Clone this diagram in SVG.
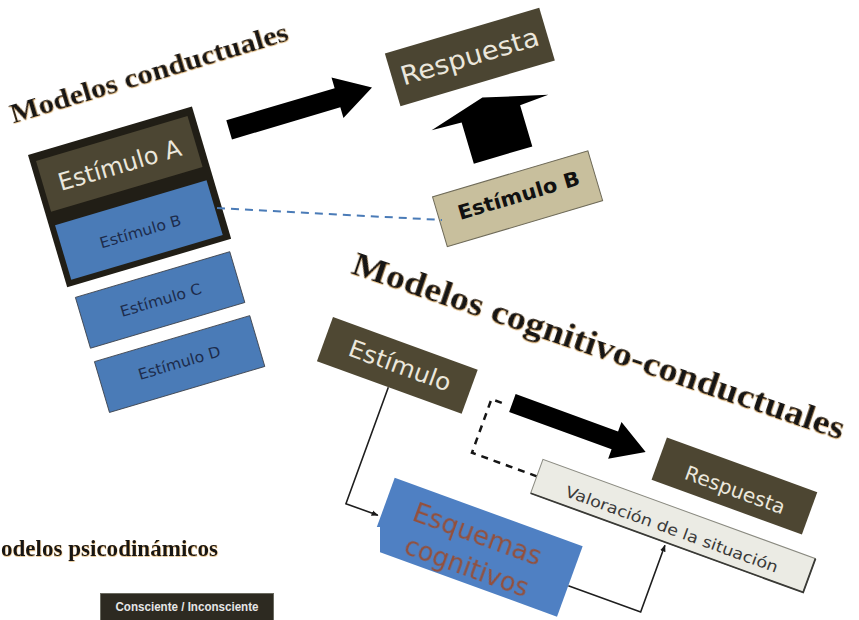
<svg xmlns="http://www.w3.org/2000/svg" width="859" height="620" viewBox="0 0 859 620">
  <defs>
    <filter id="glow" x="-5%" y="-30%" width="110%" height="160%">
      <feDropShadow dx="0.3" dy="0.8" stdDeviation="0.35" flood-color="#d08a20" flood-opacity="0.55"/>
    </filter>
    <filter id="soft" x="-5%" y="-20%" width="110%" height="140%">
      <feGaussianBlur stdDeviation="0.5"/>
    </filter>
    <marker id="ah" viewBox="0 0 10 10" refX="9" refY="5" markerWidth="7" markerHeight="7" markerUnits="userSpaceOnUse" orient="auto">
      <path d="M0,1 L10,5 L0,9 z" fill="#1a1a1a"/>
    </marker>
  </defs>
  <style>
    .title { font-family: "Liberation Serif", "Times New Roman", serif; font-weight: bold; fill: #121212; }
    .sans { font-family: "DejaVu Sans", Verdana, sans-serif; text-anchor: middle; }
    .light { fill: #ebe7dc; }
    .navy { fill: #1d2c4c; }
    .olive { fill: #4c4633; }
    .blue { fill: #4a7bb7; }
    .blueb { fill: #4a7bb7; stroke: #3a3f48; stroke-width: 0.8; }
    .arrow { fill: #000; }
    .line { fill: none; stroke: #1e1e1e; stroke-width: 1.6; }
  </style>
  <rect width="859" height="620" fill="#ffffff"/>

  <!-- Panel 1: Modelos conductuales -->
  <g id="title-conductuales" transform="translate(13.3,123.3) rotate(-16.75)">
    <text class="title" x="0" y="0" font-size="28" textLength="289" lengthAdjust="spacingAndGlyphs" filter="url(#glow)">Modelos conductuales</text>
  </g>
  <g id="panel-conductuales" transform="translate(28,155) rotate(-16.5)">
    <g id="stim-frame">
      <rect x="0" y="0" width="171" height="138" fill="#211e16"/>
    </g>
    <g id="estimulo-a">
      <rect x="6" y="8" width="158" height="53" class="olive"/>
      <text class="sans light" x="85" y="44" font-size="24" textLength="127" lengthAdjust="spacingAndGlyphs">Estímulo A</text>
    </g>
    <g id="estimulo-b-blue">
      <rect x="6" y="75" width="158" height="57" class="blue"/>
      <text class="sans navy" x="86" y="110.5" font-size="15" textLength="84" lengthAdjust="spacingAndGlyphs">Estímulo B</text>
    </g>
    <g id="estimulo-c">
      <rect x="5" y="150" width="161" height="53" class="blueb"/>
      <text class="sans navy" x="86" y="182" font-size="15" textLength="84" lengthAdjust="spacingAndGlyphs">Estímulo C</text>
    </g>
    <g id="estimulo-d">
      <rect x="5" y="217" width="162" height="53" class="blueb"/>
      <text class="sans navy" x="86" y="247.5" font-size="15" textLength="85" lengthAdjust="spacingAndGlyphs">Estímulo D</text>
    </g>
    <g id="respuesta-1">
      <rect x="371" y="4" width="161" height="55" fill="#4b4532"/>
      <text class="sans light" x="451.5" y="40" font-size="26" textLength="143" lengthAdjust="spacingAndGlyphs">Respuesta</text>
    </g>
    <g id="estimulo-b-tan">
      <rect x="376" y="155" width="162" height="52" fill="#c8bf9d" stroke="#6e6a58" stroke-width="1"/>
      <text class="sans" x="459" y="185" font-size="20" font-weight="bold" fill="#111" textLength="126" lengthAdjust="spacingAndGlyphs">Estímulo B</text>
    </g>
    <g id="connectors-1">
      <polygon class="arrow" points="200,23 313,23 313,12 349,33 313,54 313,43 200,43"/>
      <polygon class="arrow" points="394,91 452,74 516,90 486,92 486,135 425,135 425,92"/>
    </g>
  </g>
  <g id="connector-dashed-blue">
    <line x1="217" y1="208" x2="442" y2="220" stroke="#4a7bb7" stroke-width="2" stroke-dasharray="8 6"/>
  </g>

  <!-- Panel 2: Modelos cognitivo-conductuales -->
  <g id="title-cognitivo" transform="translate(350,273) rotate(18.8)">
    <text class="title" x="0" y="0" font-size="33" textLength="518" lengthAdjust="spacingAndGlyphs" filter="url(#glow)">Modelos cognitivo-conductuales</text>
  </g>
  <g id="panel-cognitivo" transform="translate(333,317) rotate(20)">
    <g id="connectors-2">
      <path class="line" d="M76,47 V171 H110" marker-end="url(#ah)"/>
      <path class="line" d="M313,172 H390 V101" marker-end="url(#ah)"/>
      <path d="M188,23 H177 V80 H246" fill="none" stroke="#151515" stroke-width="2.5" stroke-dasharray="7 6"/>
      <polygon class="arrow" points="198,10 307,10 307,0 340,20 307,39 307,29 198,29"/>
    </g>
    <g id="estimulo-2">
      <rect x="0" y="0" width="154" height="47" fill="#4f4833"/>
      <text class="sans light" x="79.5" y="31" font-size="24" textLength="107" lengthAdjust="spacingAndGlyphs">Estímulo</text>
    </g>
    <g id="respuesta-2">
      <rect x="355" y="-1" width="160" height="45" fill="#4d4632"/>
      <text class="sans light" x="437" y="32" font-size="20" textLength="105" lengthAdjust="spacingAndGlyphs">Respuesta</text>
    </g>
    <g id="valoracion">
      <rect x="246" y="62" width="290" height="36" fill="#ebebe4" stroke="#8a8a80" stroke-width="1"/>
      <path d="M536,62 V98 H246" fill="none" stroke="#3a3a36" stroke-width="1.8"/>
      <text class="sans" x="391" y="89" font-size="15.5" fill="#3a3a3a" textLength="225" lengthAdjust="spacingAndGlyphs">Valoración de la situación</text>
    </g>
    <g id="esquemas">
      <rect x="113" y="130" width="200" height="75" fill="#4f80c3"/>
      <g filter="url(#soft)">
        <text class="sans" x="210" y="164" font-size="26" fill="#94503a" textLength="135" lengthAdjust="spacingAndGlyphs">Esquemas</text>
        <text class="sans" x="211" y="198" font-size="26" fill="#94503a" textLength="130" lengthAdjust="spacingAndGlyphs">cognitivos</text>
      </g>
    </g>
  </g>

  <!-- Panel 3: Modelos psicodinámicos (partial) -->
  <rect x="0" y="527" width="380" height="93" fill="#ffffff"/>
  <g id="title-psicodinamicos">
    <text class="title" x="1" y="556" font-size="24" textLength="217" lengthAdjust="spacingAndGlyphs" filter="url(#glow)">odelos psicodinámicos</text>
  </g>
  <g id="consciente">
    <rect x="100.5" y="593.5" width="173" height="30" fill="#2d2a21" stroke="#6a6a60" stroke-width="1"/>
    <text x="187" y="611" font-family="'Liberation Sans', Arial, sans-serif" font-weight="bold" font-size="12" fill="#e6e6e6" text-anchor="middle" textLength="143" lengthAdjust="spacingAndGlyphs">Consciente / Inconsciente</text>
  </g>
</svg>
